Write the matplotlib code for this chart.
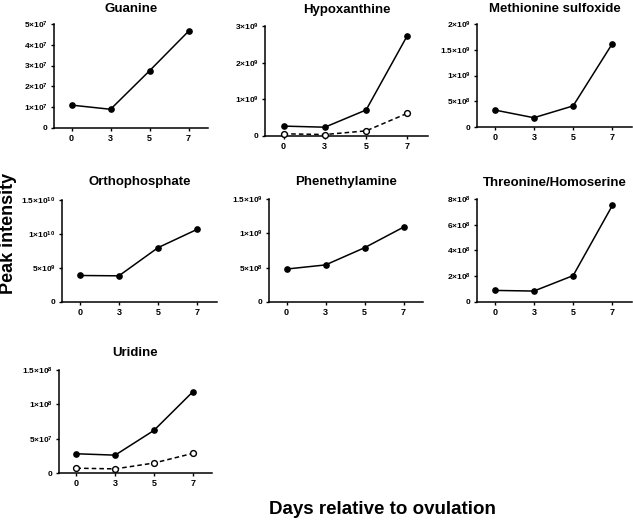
import numpy as np
import matplotlib
matplotlib.use('Agg')
import matplotlib.pyplot as plt

plt.rcParams['font.family'] = ['Liberation Sans', 'DejaVu Sans']
plt.rcParams['font.weight'] = 'bold'
plt.rcParams['mathtext.fontset'] = 'custom'
plt.rcParams['mathtext.rm'] = 'Liberation Sans:bold'
plt.rcParams['mathtext.it'] = 'Liberation Sans:bold'
plt.rcParams['mathtext.bf'] = 'Liberation Sans:bold'

# data
days = ['0', '3', '5', '7']

guanine = [1.1e7, 0.9e7, 2.75e7, 4.65e7]
hypoxanthine = [0.27e9, 0.24e9, 0.71e9, 2.74e9]
hypoxanthine_open = [0.06e9, 0.04e9, 0.14e9, 0.62e9]
methionine_sulfoxide = [0.33e9, 0.18e9, 0.41e9, 1.62e9]
orthophosphate = [3.9e9, 3.85e9, 8.0e9, 1.07e10]
phenethylamine = [4.8e8, 5.4e8, 7.9e8, 1.09e9]
threonine_homoserine = [0.9e8, 0.85e8, 2.05e8, 7.5e8]
uridine = [2.8e7, 2.6e7, 6.2e7, 1.18e8]
uridine_open = [0.7e7, 0.6e7, 1.45e7, 2.85e7]

guanine_yticks = [0, 1e7, 2e7, 3e7, 4e7, 5e7]
hypoxanthine_yticks = [0, 1e9, 2e9, 3e9]
methionine_yticks = [0, 5e8, 1e9, 1.5e9, 2e9]
ortho_yticks = [0, 5e9, 1e10, 1.5e10]
phen_yticks = [0, 5e8, 1e9, 1.5e9]
threo_yticks = [0, 2e8, 4e8, 6e8, 8e8]
uridine_yticks = [0, 5e7, 1e8, 1.5e8]

W, H = 633, 521


def sci_label(v):
    if v == 0:
        return '0'
    exp = int(np.floor(np.log10(v) + 1e-9))
    mant = round(v / 10 ** exp, 2)
    return r'$%g{\times}10^{%d}$' % (mant, exp)


def add_panel(fig, box, title, title_y, solid, yticks, dashed=None):
    left, top, right, bottom = box
    ax = fig.add_axes([left / W, 1 - bottom / H, (right - left) / W, (bottom - top) / H])
    x = np.arange(len(days))
    ax.plot(x, solid, color='black', lw=1.1, marker='o', ms=3.8,
            mfc='black', mec='black', clip_on=False, zorder=3)
    if dashed is not None:
        ax.plot(x, dashed, color='black', lw=1.1, ls=(0, (3, 2)), marker='o', ms=4.2,
                mfc='white', mec='black', mew=1.0, clip_on=False, zorder=3)
    ax.set_xlim(-0.45, 3.5)
    ax.set_ylim(0, yticks[-1])
    ax.set_xticks(x)
    ax.set_xticklabels(days, fontsize=6.5, fontweight='bold')
    ax.set_yticks(yticks)
    ax.set_yticklabels([sci_label(v) for v in yticks], fontsize=6)
    for s in ['top', 'right']:
        ax.spines[s].set_visible(False)
    for s in ['left', 'bottom']:
        ax.spines[s].set_linewidth(1.1)
    ax.tick_params(direction='out', length=2.5, width=1.0, pad=2)
    fig.text((left + right) / 2 / W, 1 - title_y / H, title, ha='center', va='baseline',
             fontsize=9.5, fontweight='bold')
    return ax


fig = plt.figure(figsize=(W / 100, H / 100), dpi=100)

add_panel(fig, (54, 24, 208, 128), 'Guanine', 12.5, guanine, guanine_yticks)
add_panel(fig, (265, 26, 428, 136), 'Hypoxanthine', 12.5, hypoxanthine, hypoxanthine_yticks,
          dashed=hypoxanthine_open)
add_panel(fig, (477, 24, 632, 127), 'Methionine sulfoxide', 12.5, methionine_sulfoxide,
          methionine_yticks)
add_panel(fig, (62, 200, 217, 302), 'Orthophosphate', 185.5, orthophosphate, ortho_yticks)
add_panel(fig, (269, 199, 423, 302), 'Phenethylamine', 185.5, phenethylamine, phen_yticks)
add_panel(fig, (477, 199, 632, 302), 'Threonine/Homoserine', 185.5, threonine_homoserine,
          threo_yticks)
add_panel(fig, (59, 370, 212, 473), 'Uridine', 356, uridine, uridine_yticks, dashed=uridine_open)

fig.text(9 / W, 1 - 233 / H, 'Peak intensity', rotation=90, ha='center', va='center',
         fontsize=13, fontweight='bold')
fig.text(382 / W, 1 - 510 / H, 'Days relative to ovulation', ha='center', va='center',
         fontsize=13.5, fontweight='bold')

fig.savefig('out.png', dpi=100)
